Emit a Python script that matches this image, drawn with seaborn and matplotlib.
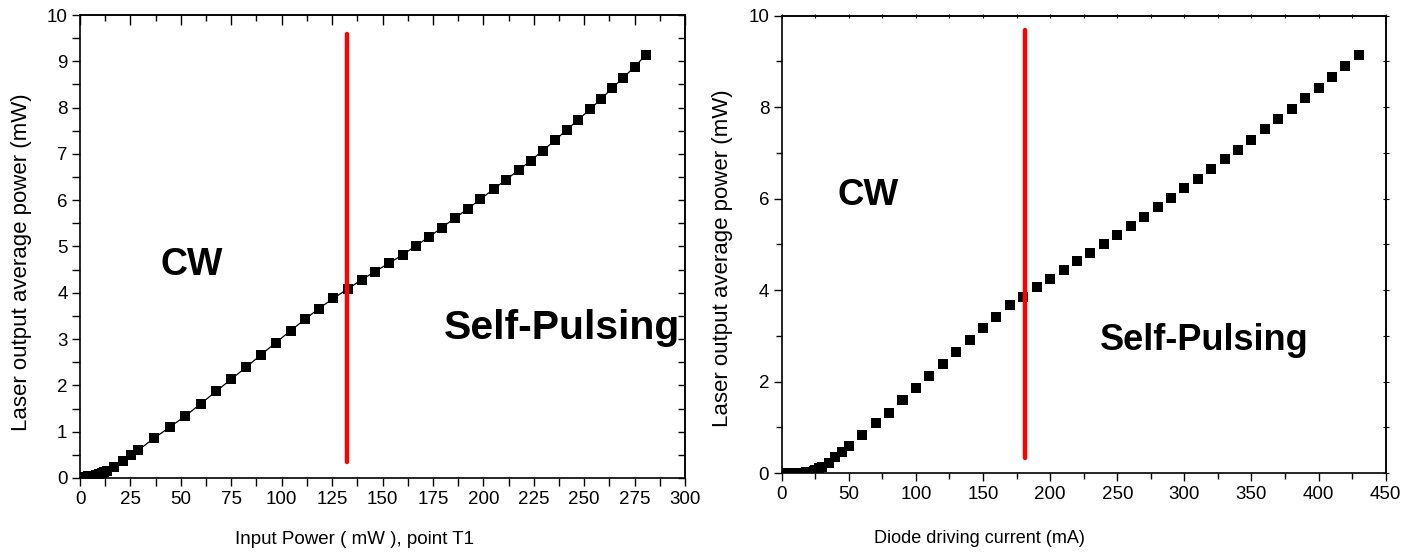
import matplotlib
matplotlib.use("Agg")
import matplotlib.pyplot as plt
import seaborn as sns
import numpy as np
import pandas as pd
from matplotlib.ticker import MultipleLocator

# ---- data ----
input_power_mw = [0.5, 2, 4, 6, 8, 9.5, 11, 12, 13.2, 17, 21.2, 25.1, 28.9, 36.7,
                  44.6, 52.2, 59.8, 67.4, 74.9, 82.3, 89.7, 97, 104.4, 111.6, 118.5,
                  125.6, 132.7, 139.6, 146.3, 153.2, 160, 166.4, 173.2, 179.5, 186.1,
                  192.5, 198.5, 205.1, 211.2, 217.5, 223.4, 229.4, 235.5, 241.3, 246.9,
                  252.8, 258.5, 263.9, 269.5, 275, 280.6]
left_output_mw = [0.02, 0.03, 0.04, 0.05, 0.07, 0.09, 0.11, 0.13, 0.16, 0.24, 0.37,
                  0.50, 0.60, 0.86, 1.10, 1.34, 1.60, 1.87, 2.13, 2.39, 2.66, 2.92,
                  3.18, 3.43, 3.66, 3.88, 4.08, 4.28, 4.46, 4.64, 4.82, 5.01, 5.21,
                  5.41, 5.62, 5.82, 6.02, 6.24, 6.44, 6.65, 6.85, 7.07, 7.29, 7.52,
                  7.73, 7.96, 8.19, 8.42, 8.65, 8.88, 9.14]

diode_current_ma = [0, 2, 4, 6, 8, 10, 12, 14, 16, 18, 20, 22, 24, 25, 27.5, 30, 35,
                    40, 45, 50, 60, 70, 80, 90, 100, 110, 120, 130, 140, 150, 160, 170,
                    180, 190, 200, 210, 220, 230, 240, 250, 260, 270, 280, 290, 300,
                    310, 320, 330, 340, 350, 360, 370, 380, 390, 400, 410, 420, 430]
right_output_mw = [0.01, 0.01, 0.01, 0.01, 0.01, 0.01, 0.01, 0.01, 0.01, 0.02, 0.02,
                   0.03, 0.05, 0.07, 0.11, 0.14, 0.23, 0.36, 0.47, 0.60, 0.83, 1.09,
                   1.31, 1.60, 1.86, 2.12, 2.39, 2.65, 2.91, 3.17, 3.42, 3.67, 3.86,
                   4.07, 4.25, 4.45, 4.63, 4.81, 5.01, 5.21, 5.41, 5.61, 5.81, 6.02,
                   6.23, 6.44, 6.64, 6.87, 7.07, 7.29, 7.52, 7.75, 7.97, 8.20, 8.43,
                   8.66, 8.89, 9.14]

left_threshold = 132.5
right_threshold = 181

sns.set_theme(style="ticks")
plt.rcParams["font.family"] = ["Liberation Sans", "DejaVu Sans"]
plt.rcParams["text.color"] = "black"
plt.rcParams["axes.labelcolor"] = "black"
plt.rcParams["xtick.color"] = "black"
plt.rcParams["ytick.color"] = "black"

fig = plt.figure(figsize=(14.16, 5.54), dpi=100)
W, H = 1416, 554
axL = fig.add_axes([80 / W, (H - 478) / H, 605 / W, 463 / H])
axR = fig.add_axes([781.7 / W, (H - 473.2) / H, 604 / W, 457.5 / H])

dfL = pd.DataFrame({"x": input_power_mw, "y": left_output_mw})
dfR = pd.DataFrame({"x": diode_current_ma, "y": right_output_mw})

sns.lineplot(data=dfL, x="x", y="y", ax=axL, color="black", lw=0.9, marker="s",
             markersize=7.5, markeredgecolor="black", markeredgewidth=0, sort=False)
sns.scatterplot(data=dfR, x="x", y="y", ax=axR, color="black", marker="s", s=52,
                edgecolor="none", linewidth=0)

axL.plot([left_threshold, left_threshold], [0.35, 9.6], color="#ff0000", lw=3.2,
         solid_capstyle="round", zorder=5)
axR.plot([right_threshold, right_threshold], [0.33, 9.69], color="#ff0000", lw=3.2,
         solid_capstyle="round", zorder=5)

tick_fs = 13.5
xlab_fs = 13.5
ylab_fs = 16
for ax in (axL, axR):
    for s in ax.spines.values():
        s.set_linewidth(1.2)
        s.set_color("black")
    ax.set_ylim(0, 10)
    ax.tick_params(labelsize=tick_fs, colors="black", width=1.0, pad=3)

# Left axes
axL.set_xlim(0, 300)
axL.xaxis.set_major_locator(MultipleLocator(25))
axL.xaxis.set_minor_locator(MultipleLocator(12.5))
axL.yaxis.set_major_locator(MultipleLocator(1))
axL.yaxis.set_minor_locator(MultipleLocator(0.5))
axL.tick_params(which="major", direction="out", length=6)
axL.tick_params(which="minor", direction="out", length=6, width=1.0)
axLt = axL.secondary_xaxis("top")
axLt.xaxis.set_major_locator(MultipleLocator(25))
axLt.xaxis.set_minor_locator(MultipleLocator(12.5))
axLt.tick_params(which="major", direction="in", length=7, width=1.0, labeltop=False)
axLt.tick_params(which="minor", direction="in", length=4, width=1.0)
axLt.set_xticklabels([])
axLr = axL.secondary_yaxis("right")
axLr.yaxis.set_major_locator(MultipleLocator(1))
axLr.yaxis.set_minor_locator(MultipleLocator(0.5))
axLr.tick_params(which="both", direction="in", length=5, width=1.0, labelright=False)
axLr.set_yticklabels([])
axL.set_xlabel("Input Power ( mW ), point T1", fontsize=xlab_fs, labelpad=14)
axL.xaxis.set_label_coords(0.453, -0.115)
axL.set_ylabel("Laser output average power (mW)", fontsize=ylab_fs)
axL.yaxis.set_label_coords(-0.079, 0.467)
axL.text(55.5, 4.6, "CW", fontsize=27, fontweight="bold", ha="center", va="center")
axL.text(239, 3.24, "Self-Pulsing", fontsize=29.5, fontweight="bold", ha="center", va="center")

# Right axes
axR.set_xlim(0, 450)
axR.xaxis.set_major_locator(MultipleLocator(50))
axR.xaxis.set_minor_locator(MultipleLocator(25))
axR.yaxis.set_major_locator(MultipleLocator(2))
axR.yaxis.set_minor_locator(MultipleLocator(1))
axR.tick_params(which="major", direction="out", length=6)
axR.tick_params(which="minor", direction="out", length=4)
axRt = axR.secondary_xaxis("top")
axRt.xaxis.set_major_locator(MultipleLocator(25))
axRt.tick_params(which="major", direction="inout", length=3, width=0.8)
axRt.set_xticklabels([])
axRr = axR.secondary_yaxis("right")
axRr.yaxis.set_major_locator(MultipleLocator(1))
axRr.tick_params(which="major", direction="inout", length=4, width=0.8)
axRr.set_yticklabels([])
axR.set_xlabel("Diode driving current (mA)", fontsize=13, labelpad=14)
axR.xaxis.set_label_coords(0.328, -0.125)
axR.set_ylabel("Laser output average power (mW)", fontsize=ylab_fs)
axR.yaxis.set_label_coords(-0.081, 0.47)
axR.text(64, 6.08, "CW", fontsize=26.5, fontweight="bold", ha="center", va="center")
axR.text(315, 2.91, "Self-Pulsing", fontsize=26, fontweight="bold", ha="center", va="center")

fig.savefig("out.png", dpi=100, facecolor="white")
